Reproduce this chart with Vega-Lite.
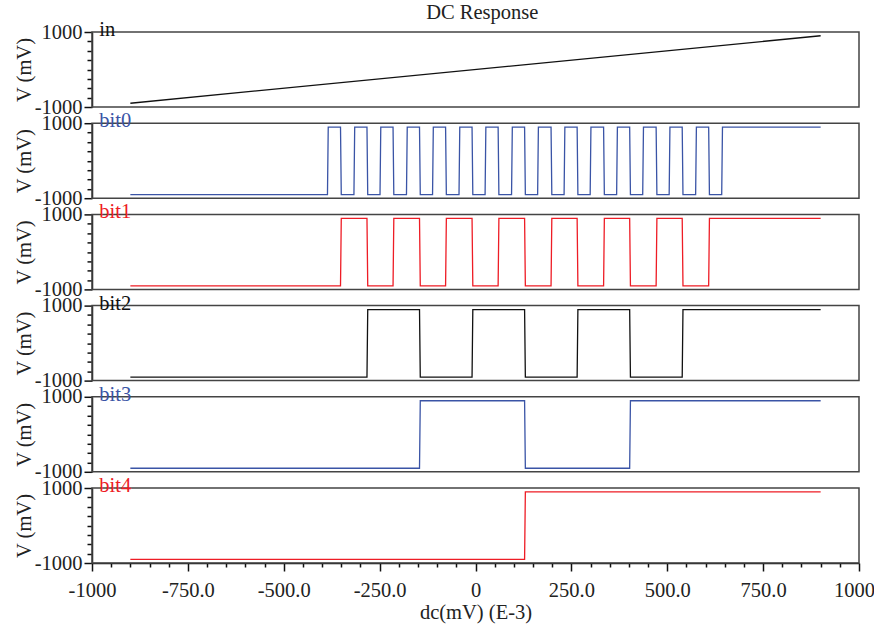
{
  "$schema": "https://vega.github.io/schema/vega-lite/v6.json",
  "padding": {"left": 14, "top": 2, "right": 5, "bottom": 2},
  "title": {"text": "DC Response", "fontSize": 20.5, "fontWeight": "normal", "font": "Liberation Serif", "color": "#222", "anchor": "middle", "dx": 38, "offset": -4},
  "config": {
    "font": "Liberation Serif",
    "view": {"stroke": "#444", "strokeWidth": 1.5},
    "axis": {"labelFont": "Liberation Serif", "titleFont": "Liberation Serif", "labelFontSize": 20.5, "titleFontSize": 20.5, "titleFontWeight": "normal", "labelColor": "#222", "titleColor": "#222", "domainColor": "#111", "tickColor": "#111", "domainWidth": 1.5, "tickWidth": 1.5, "grid": false}
  },
  "data": {"values": [
    {"s":"in","x":-900,"v":-900},{"s":"in","x":900,"v":900},

    {"s":"bit0","x":-900,"v":-905},
    {"s":"bit0","x":-386,"v":-905},{"s":"bit0","x":-384,"v":895},
    {"s":"bit0","x":-352,"v":895},{"s":"bit0","x":-350,"v":-905},
    {"s":"bit0","x":-317,"v":-905},{"s":"bit0","x":-315,"v":895},
    {"s":"bit0","x":-283,"v":895},{"s":"bit0","x":-281,"v":-905},
    {"s":"bit0","x":-249,"v":-905},{"s":"bit0","x":-247,"v":895},
    {"s":"bit0","x":-215,"v":895},{"s":"bit0","x":-213,"v":-905},
    {"s":"bit0","x":-180,"v":-905},{"s":"bit0","x":-178,"v":895},
    {"s":"bit0","x":-146,"v":895},{"s":"bit0","x":-144,"v":-905},
    {"s":"bit0","x":-112,"v":-905},{"s":"bit0","x":-110,"v":895},
    {"s":"bit0","x":-78,"v":895},{"s":"bit0","x":-76,"v":-905},
    {"s":"bit0","x":-43,"v":-905},{"s":"bit0","x":-41,"v":895},
    {"s":"bit0","x":-9,"v":895},{"s":"bit0","x":-7,"v":-905},
    {"s":"bit0","x":25,"v":-905},{"s":"bit0","x":27,"v":895},
    {"s":"bit0","x":59,"v":895},{"s":"bit0","x":61,"v":-905},
    {"s":"bit0","x":94,"v":-905},{"s":"bit0","x":96,"v":895},
    {"s":"bit0","x":128,"v":895},{"s":"bit0","x":130,"v":-905},
    {"s":"bit0","x":162,"v":-905},{"s":"bit0","x":164,"v":895},
    {"s":"bit0","x":197,"v":895},{"s":"bit0","x":199,"v":-905},
    {"s":"bit0","x":231,"v":-905},{"s":"bit0","x":233,"v":895},
    {"s":"bit0","x":265,"v":895},{"s":"bit0","x":267,"v":-905},
    {"s":"bit0","x":299,"v":-905},{"s":"bit0","x":301,"v":895},
    {"s":"bit0","x":334,"v":895},{"s":"bit0","x":336,"v":-905},
    {"s":"bit0","x":368,"v":-905},{"s":"bit0","x":370,"v":895},
    {"s":"bit0","x":402,"v":895},{"s":"bit0","x":404,"v":-905},
    {"s":"bit0","x":436,"v":-905},{"s":"bit0","x":438,"v":895},
    {"s":"bit0","x":471,"v":895},{"s":"bit0","x":473,"v":-905},
    {"s":"bit0","x":505,"v":-905},{"s":"bit0","x":507,"v":895},
    {"s":"bit0","x":539,"v":895},{"s":"bit0","x":541,"v":-905},
    {"s":"bit0","x":574,"v":-905},{"s":"bit0","x":576,"v":895},
    {"s":"bit0","x":608,"v":895},{"s":"bit0","x":610,"v":-905},
    {"s":"bit0","x":642,"v":-905},{"s":"bit0","x":644,"v":895},
    {"s":"bit0","x":900,"v":895},

    {"s":"bit1","x":-900,"v":-905},
    {"s":"bit1","x":-352,"v":-905},{"s":"bit1","x":-350,"v":895},
    {"s":"bit1","x":-283,"v":895},{"s":"bit1","x":-281,"v":-905},
    {"s":"bit1","x":-215,"v":-905},{"s":"bit1","x":-213,"v":895},
    {"s":"bit1","x":-146,"v":895},{"s":"bit1","x":-144,"v":-905},
    {"s":"bit1","x":-78,"v":-905},{"s":"bit1","x":-76,"v":895},
    {"s":"bit1","x":-9,"v":895},{"s":"bit1","x":-7,"v":-905},
    {"s":"bit1","x":59,"v":-905},{"s":"bit1","x":61,"v":895},
    {"s":"bit1","x":128,"v":895},{"s":"bit1","x":130,"v":-905},
    {"s":"bit1","x":197,"v":-905},{"s":"bit1","x":199,"v":895},
    {"s":"bit1","x":265,"v":895},{"s":"bit1","x":267,"v":-905},
    {"s":"bit1","x":334,"v":-905},{"s":"bit1","x":336,"v":895},
    {"s":"bit1","x":402,"v":895},{"s":"bit1","x":404,"v":-905},
    {"s":"bit1","x":471,"v":-905},{"s":"bit1","x":473,"v":895},
    {"s":"bit1","x":539,"v":895},{"s":"bit1","x":541,"v":-905},
    {"s":"bit1","x":608,"v":-905},{"s":"bit1","x":610,"v":895},
    {"s":"bit1","x":900,"v":895},

    {"s":"bit2","x":-900,"v":-905},
    {"s":"bit2","x":-283,"v":-905},{"s":"bit2","x":-281,"v":895},
    {"s":"bit2","x":-146,"v":895},{"s":"bit2","x":-144,"v":-905},
    {"s":"bit2","x":-9,"v":-905},{"s":"bit2","x":-7,"v":895},
    {"s":"bit2","x":128,"v":895},{"s":"bit2","x":130,"v":-905},
    {"s":"bit2","x":265,"v":-905},{"s":"bit2","x":267,"v":895},
    {"s":"bit2","x":402,"v":895},{"s":"bit2","x":404,"v":-905},
    {"s":"bit2","x":539,"v":-905},{"s":"bit2","x":541,"v":895},
    {"s":"bit2","x":900,"v":895},

    {"s":"bit3","x":-900,"v":-905},
    {"s":"bit3","x":-146,"v":-905},{"s":"bit3","x":-144,"v":895},
    {"s":"bit3","x":128,"v":895},{"s":"bit3","x":130,"v":-905},
    {"s":"bit3","x":402,"v":-905},{"s":"bit3","x":404,"v":895},
    {"s":"bit3","x":900,"v":895},

    {"s":"bit4","x":-900,"v":-905},
    {"s":"bit4","x":128,"v":-905},{"s":"bit4","x":130,"v":895},
    {"s":"bit4","x":900,"v":895}
  ]},
  "facet": {"row": {"field": "s", "type": "nominal", "sort": ["in","bit0","bit1","bit2","bit3","bit4"], "header": {"labels": false, "title": null}, "title": null}},
  "bounds": "flush",
  "spacing": {"row": 16.2},
  "spec": {
    "width": 767,
    "height": 75,
    "encoding": {
      "x": {"field": "x", "type": "quantitative", "title": "dc(mV) (E-3)",
        "scale": {"domain": [-1000, 1000], "nice": false, "zero": false},
        "axis": {
          "values": [-1000,-950,-900,-850,-800,-750,-700,-650,-600,-550,-500,-450,-400,-350,-300,-250,-200,-150,-100,-50,0,50,100,150,200,250,300,350,400,450,500,550,600,650,700,750,800,850,900,950,1000],
          "labelExpr": "datum.value % 250 != 0 ? '' : (abs(datum.value) == 1000 || datum.value == 0 ? '' + datum.value : (datum.value < 0 ? '-' : '') + format(abs(datum.value), '.1f'))",
          "tickSize": {"condition": {"test": "datum.value % 250 == 0", "value": 8}, "value": 4},
          "labelOffset": {"condition": {"test": "datum.value == 1000", "value": -5}, "value": 0},
          "labelPadding": 9, "titlePadding": 2, "labelFlush": false, "labelOverlap": false
        }
      },
      "y": {"field": "v", "type": "quantitative", "title": "V (mV)",
        "scale": {"domain": [-1000, 1000], "nice": false, "zero": false},
        "axis": {
          "values": [-1000,-750,-500,-250,0,250,500,750,1000],
          "labelExpr": "abs(datum.value) == 1000 ? '' + datum.value : ''",
          "tickSize": {"condition": {"test": "abs(datum.value) == 1000", "value": 8}, "value": 5},
          "labelPadding": 2, "titlePadding": 0, "labelFlush": false, "labelOverlap": false
        }
      },
      "color": {"field": "s", "type": "nominal", "legend": null,
        "scale": {"domain": ["in","bit0","bit1","bit2","bit3","bit4"], "range": ["#111111","#3a54a6","#ee1c25","#111111","#3a54a6","#ee1c25"]}}
    },
    "layer": [
      {"mark": {"type": "line", "strokeWidth": 1.3}},
      {
        "transform": [{"filter": "datum.x == -900"}],
        "mark": {"type": "text", "align": "left", "baseline": "alphabetic", "fontSize": 20.5, "dy": 4, "font": "Liberation Serif"},
        "encoding": {
          "x": {"datum": -981},
          "y": {"datum": 1000},
          "text": {"field": "s", "type": "nominal"}
        }
      }
    ]
  }
}
